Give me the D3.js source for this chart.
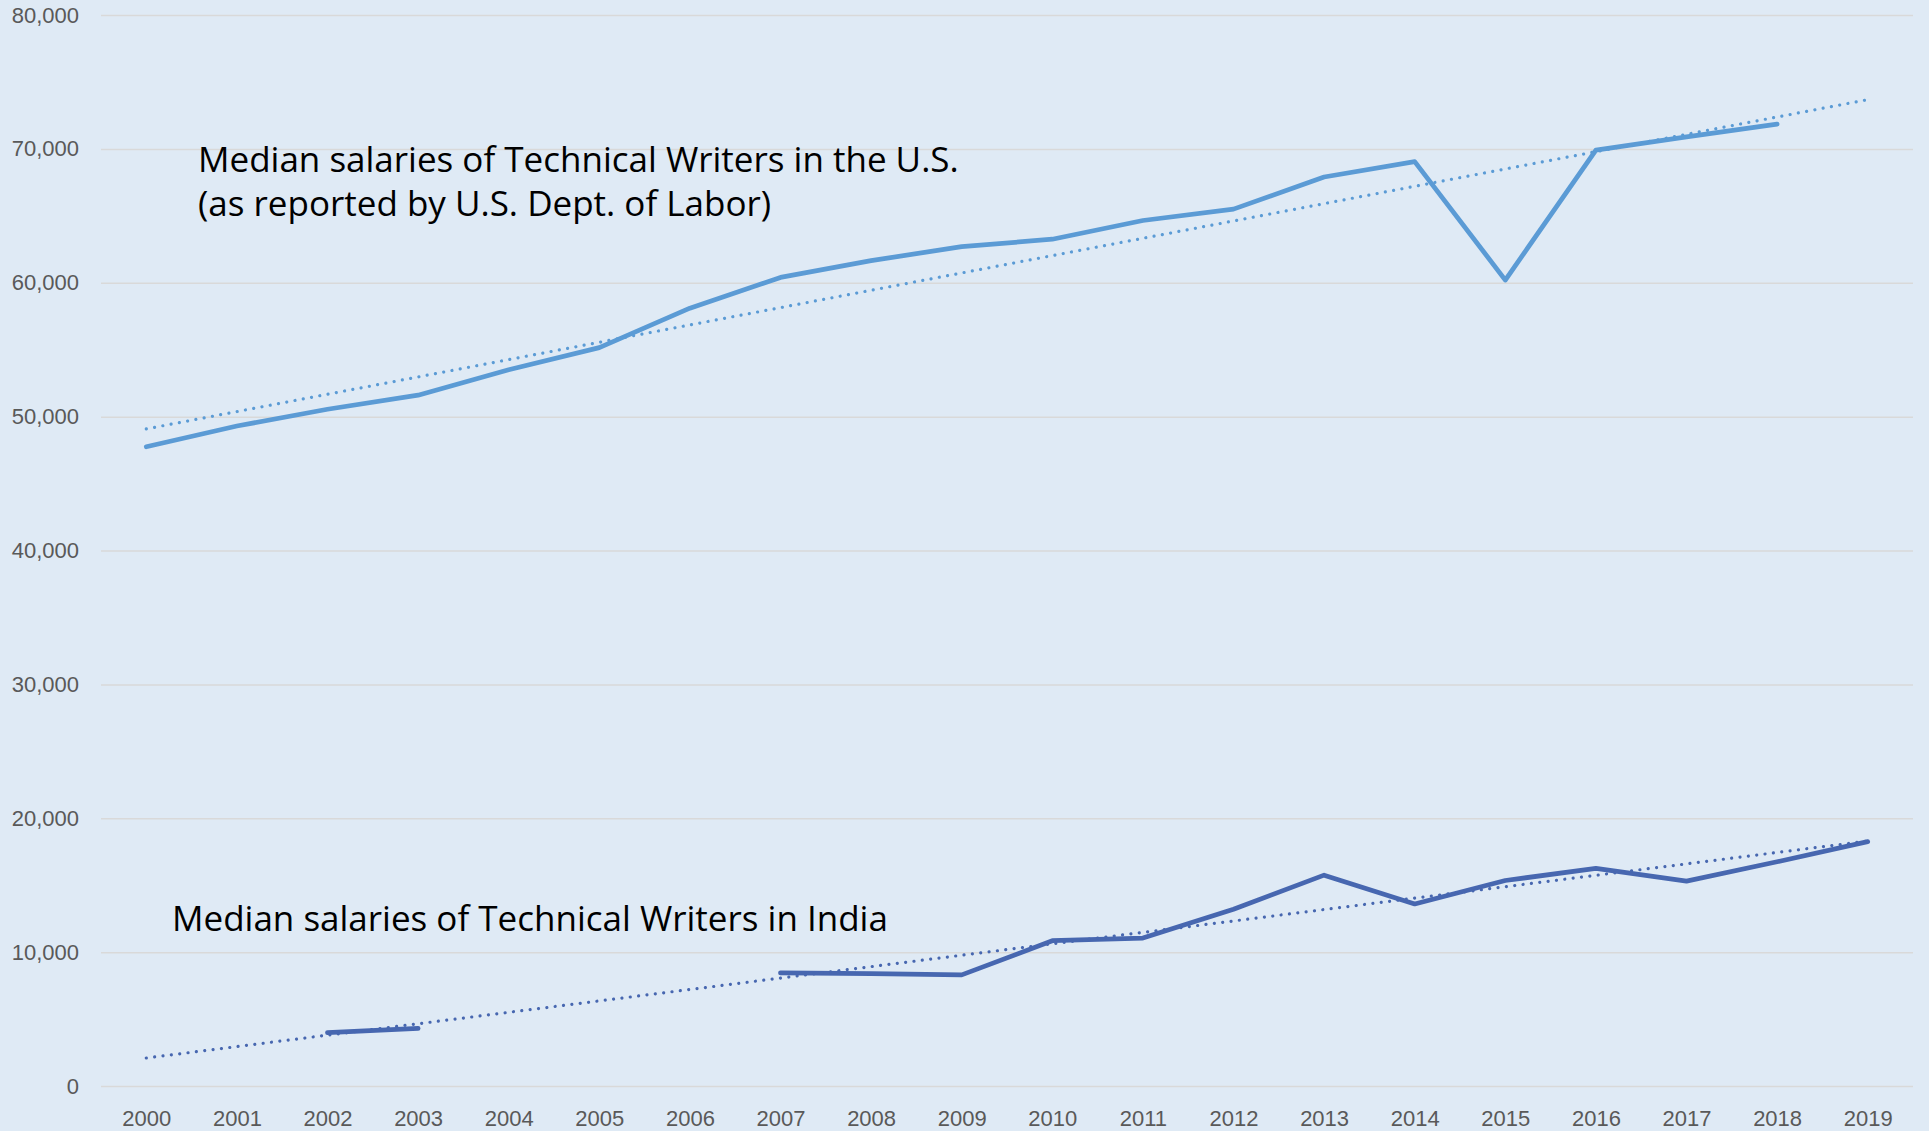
<!DOCTYPE html>
<html>
<head>
<meta charset="utf-8">
<script src="https://cdn.jsdelivr.net/npm/d3@7"></script>
<style>
  body { margin: 0; background: #dfeaf5; }
  svg { display: block; font-family: "Segoe UI", "Open Sans", sans-serif; }
  .grid line { stroke: #d9d9d9; stroke-width: 1.5px; }
  .tick text { fill: #595959; font-size: 22px; }
  .note { fill: #000; font-size: 35px; }
</style>
</head>
<body>
<script>
// Categories and values
var years = ["2000", "2001", "2002", "2003", "2004", "2005", "2006", "2007", "2008", "2009",
             "2010", "2011", "2012", "2013", "2014", "2015", "2016", "2017", "2018", "2019"];

var usSalary = [47750, 49300, 50550, 51600, 53500, 55150, 58100, 60400, 61650, 62700,
                63250, 64650, 65500, 67900, 69050, 60200, 69900, 70900, 71850, null];

var indiaSalary = [null, null, 3980, 4300, null, null, null, 8450, 8400, 8300,
                   10850, 11050, 13200, 15750, 13600, 15350, 16250, 15300, 16750, 18250];

var yTicks = [0, 10000, 20000, 30000, 40000, 50000, 60000, 70000, 80000];

var usLabel = ["Median salaries of Technical Writers in the U.S.", "(as reported by U.S. Dept. of Labor)"];
var indiaLabel = "Median salaries of Technical Writers in India";

// Set graph dimensions and margins
var margin = {top: 15, right: 16, bottom: 45, left: 101},
    width = 1929 - margin.left - margin.right,
    height = 1131 - margin.top - margin.bottom;

var usColor = "#5b9bd5",
    indiaColor = "#4767b0";

// Set ranges
var x = d3.scalePoint()
    .domain(years)
    .range([0, width])
    .padding(0.5);
var y = d3.scaleLinear()
    .domain([0, 80000])
    .range([height, 0]);

// Line for a series, skipping the missing years
var line = d3.line()
    .defined(function(d) { return d.value != null; })
    .x(function(d) { return x(d.year); })
    .y(function(d) { return y(d.value); });

// Pair each value with its year
function pairs(values) {
  return years.map(function(yr, i) {
    return {year: yr, index: i, value: values[i]};
  });
}

// Linear trendline over the category index, like Excel does it
function trend(values) {
  var pts = pairs(values).filter(function(d) { return d.value != null; });
  var mx = d3.mean(pts, function(d) { return d.index; }),
      my = d3.mean(pts, function(d) { return d.value; });
  var sxy = d3.sum(pts, function(d) { return (d.index - mx) * (d.value - my); }),
      sxx = d3.sum(pts, function(d) { return (d.index - mx) * (d.index - mx); });
  var slope = sxy / sxx,
      icpt = my - slope * mx;
  return [years[0], years[years.length - 1]].map(function(yr) {
    return {year: yr, value: icpt + slope * years.indexOf(yr)};
  });
}

var svg = d3.select("body").append("svg")
    .attr("width", width + margin.left + margin.right)
    .attr("height", height + margin.top + margin.bottom)
  .append("g")
    .attr("transform", "translate(" + margin.left + "," + margin.top + ")");

// Y axis with gridlines
var yAxis = svg.append("g")
    .attr("class", "grid")
    .call(d3.axisLeft(y)
      .tickValues(yTicks)
      .tickSize(-width)
      .tickPadding(22)
      .tickFormat(d3.format(",")));
yAxis.select(".domain").remove();

// X axis
var xAxis = svg.append("g")
    .attr("transform", "translate(0," + height + ")")
    .call(d3.axisBottom(x).tickSize(0).tickPadding(24));
xAxis.select(".domain").remove();

// Series lines
svg.append("path")
    .datum(pairs(usSalary))
    .attr("fill", "none")
    .attr("stroke", usColor)
    .attr("stroke-width", 4.75)
    .attr("stroke-linejoin", "round")
    .attr("stroke-linecap", "round")
    .attr("d", line);

svg.append("path")
    .datum(pairs(indiaSalary))
    .attr("fill", "none")
    .attr("stroke", indiaColor)
    .attr("stroke-width", 4.75)
    .attr("stroke-linejoin", "round")
    .attr("stroke-linecap", "round")
    .attr("d", line);

// Dotted trendlines on top
[[usSalary, usColor], [indiaSalary, indiaColor]].forEach(function(s) {
  svg.append("path")
      .datum(trend(s[0]))
      .attr("fill", "none")
      .attr("stroke", s[1])
      .attr("stroke-width", 3.2)
      .attr("stroke-linecap", "round")
      .attr("stroke-dasharray", "0.01 8.4")
      .attr("d", line);
});

// Annotations
var usText = svg.append("text")
    .attr("class", "note")
    .attr("x", 97)
    .attr("y", 157);
usText.selectAll("tspan")
    .data(usLabel)
  .enter().append("tspan")
    .attr("x", 97)
    .attr("dy", function(d, i) { return i ? 44 : 0; })
    .text(function(d) { return d; });

svg.append("text")
    .attr("class", "note")
    .attr("x", 71)
    .attr("y", 916)
    .text(indiaLabel);
</script>
</body>
</html>
